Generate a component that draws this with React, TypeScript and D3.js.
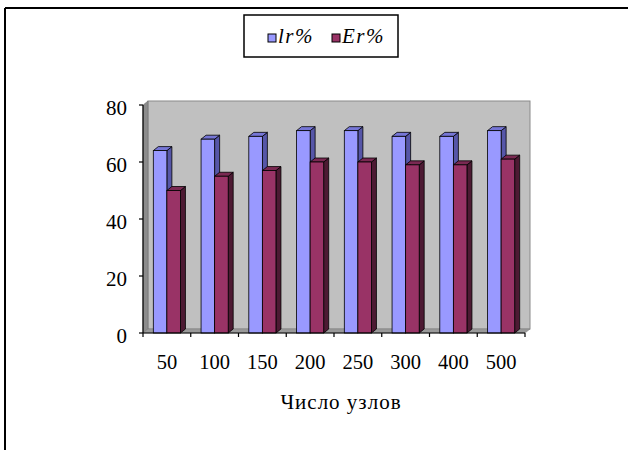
import React from "react";
import * as d3 from "d3";

const categories = ["50", "100", "150", "200", "250", "300", "400", "500"];
const seriesNames = ["lr%", "Er%"];
const lrValues = [64, 68, 69, 71, 71, 69, 69, 71];
const erValues = [50, 55, 57, 60, 60, 59, 59, 61];
const yTicks = [0, 20, 40, 60, 80];

const W = 628;
const H = 450;
const X0 = 143;
const X1 = 525;
const Y0 = 333;
const Y1 = 105;
const DX = 5;
const DY = -4;

const colors = {
  "lr%": { front: "#9999ff", top: "#7676d6", side: "#5656a8" },
  "Er%": { front: "#993366", top: "#7a2952", side: "#4d1a33" },
};

const font = '"Liberation Serif", serif';

export default function App() {
  const x = d3.scaleBand<string>().domain(categories).range([X0, X1]).padding(0);
  const sub = d3
    .scaleBand<string>()
    .domain(seriesNames)
    .range([0, x.bandwidth()])
    .paddingInner(0)
    .paddingOuter(0.76);
  const y = d3.scaleLinear().domain([0, 80]).range([Y0, Y1]);
  const values: Record<string, number[]> = { "lr%": lrValues, "Er%": erValues };

  const bars: React.ReactNode[] = [];
  categories.forEach((c, i) => {
    seriesNames.forEach((s) => {
      const v = values[s][i];
      const bx = (x(c) as number) + (sub(s) as number);
      const bw = sub.bandwidth();
      const top = y(v);
      const col = (colors as any)[s];
      const sidePts = [
        [bx + bw, top],
        [bx + bw + DX, top + DY],
        [bx + bw + DX, Y0 + DY],
        [bx + bw, Y0],
      ];
      const topPts = [
        [bx, top],
        [bx + DX, top + DY],
        [bx + bw + DX, top + DY],
        [bx + bw, top],
      ];
      bars.push(
        <g key={c + s}>
          <polygon points={sidePts.map((p) => p.join(",")).join(" ")} fill={col.side} stroke="#000" strokeWidth={0.8} />
          <polygon points={topPts.map((p) => p.join(",")).join(" ")} fill={col.top} stroke="#000" strokeWidth={0.8} />
          <rect x={bx} y={top} width={bw} height={Y0 - top} fill={col.front} stroke="#000" strokeWidth={0.8} />
        </g>
      );
    });
  });

  return (
    <svg width={W} height={H} style={{ position: "absolute", left: 0, top: 0, background: "#fff" }}>
      <line x1={5} y1={8} x2={W} y2={8} stroke="#000" strokeWidth={2} />
      <line x1={5} y1={8} x2={5} y2={H} stroke="#000" strokeWidth={2} />

      <rect x={244} y={15} width={154} height={42} fill="#fff" stroke="#000" strokeWidth={1.5} />
      <rect x={268} y={34} width={8} height={8} fill={colors["lr%"].front} stroke="#000" strokeWidth={1} />
      <text x={278} y={43} fontFamily={font} fontStyle="italic" fontSize={21} letterSpacing={1.5}>lr%</text>
      <rect x={332} y={34} width={8} height={8} fill={colors["Er%"].front} stroke="#000" strokeWidth={1} />
      <text x={342} y={43} fontFamily={font} fontStyle="italic" fontSize={21} letterSpacing={1.5}>Er%</text>

      <rect x={X0 + DX} y={Y1 + DY} width={X1 - X0} height={Y0 - Y1} fill="#c0c0c0" stroke="#8a8a8a" strokeWidth={1} />
      <polygon
        points={`${X0},${Y0} ${X0},${Y1} ${X0 + DX},${Y1 + DY} ${X0 + DX},${Y0 + DY}`}
        fill="#8c8c8c"
        stroke="#6a6a6a"
        strokeWidth={0.5}
      />
      <polygon
        points={`${X0},${Y0} ${X1},${Y0} ${X1 + DX},${Y0 + DY} ${X0 + DX},${Y0 + DY}`}
        fill="#9a9a9a"
        stroke="#7a7a7a"
        strokeWidth={0.5}
      />

      {bars}

      <line x1={X0} y1={Y0} x2={X0} y2={Y1} stroke="#000" strokeWidth={1.2} />
      {yTicks.map((t) => (
        <g key={t}>
          <line x1={X0 - 4} y1={y(t)} x2={X0} y2={y(t)} stroke="#000" strokeWidth={1.2} />
          <text x={127} y={y(t) + 3} textAnchor="end" dominantBaseline="central" fontFamily={font} fontSize={21}>
            {t}
          </text>
        </g>
      ))}

      <line x1={X0} y1={Y0} x2={X1} y2={Y0} stroke="#000" strokeWidth={1.2} />
      {[...categories.map((c) => x(c) as number), X1].map((tx, i) => (
        <line key={i} x1={tx} y1={Y0} x2={tx} y2={Y0 + 4} stroke="#000" strokeWidth={1.2} />
      ))}
      {categories.map((c) => (
        <text key={c} x={(x(c) as number) + x.bandwidth() / 2} y={369} textAnchor="middle" fontFamily={font} fontSize={20.5}>
          {c}
        </text>
      ))}
      <text x={341} y={409} textAnchor="middle" fontFamily={font} fontSize={21} letterSpacing={1}>
        Число узлов
      </text>
    </svg>
  );
}
